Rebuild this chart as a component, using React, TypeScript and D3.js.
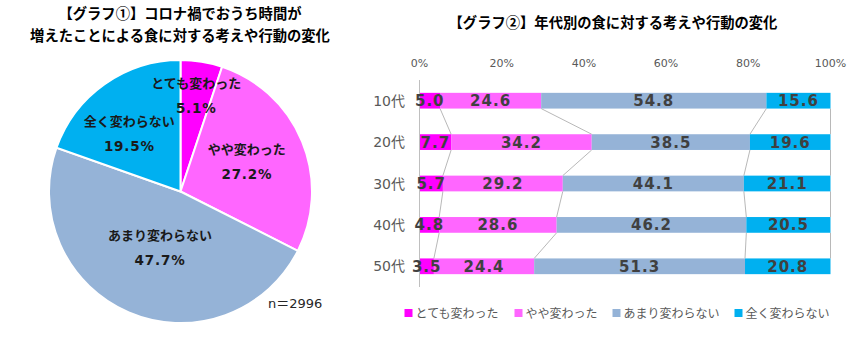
import React from "react";
import * as d3 from "d3";

// ---- data ----
const categories = ["とても変わった", "やや変わった", "あまり変わらない", "全く変わらない"];
const pieValues = [5.1, 27.2, 47.7, 19.5];
const pieSample = "n＝2996";
const ageGroups = ["10代", "20代", "30代", "40代", "50代"];
const seriesTotally = [5.0, 7.7, 5.7, 4.8, 3.5];
const seriesSomewhat = [24.6, 34.2, 29.2, 28.6, 24.4];
const seriesNotMuch = [54.8, 38.5, 44.1, 46.2, 51.3];
const seriesNotAtAll = [15.6, 19.6, 21.1, 20.5, 20.8];
const tickValues = [0, 20, 40, 60, 80, 100];
const tickLabels = ["0%", "20%", "40%", "60%", "80%", "100%"];
const title1Lines = ["【グラフ①】コロナ禍でおうち時間が", "増えたことによる食に対する考えや行動の変化"];
const title2 = "【グラフ②】年代別の食に対する考えや行動の変化";

// ---- style ----
const colors = ["#FF00FF", "#FF66FF", "#95B3D7", "#00B0F0"];
const pieLabelRadius = [98, 73, 59, 78];
const pieLabelAngleShift = [0, -0.04, -0.05, -0.1];
const FONT = "'DejaVu Sans', 'Noto Sans CJK JP', sans-serif";
const JFONT = "'Noto Sans CJK JP', sans-serif";

export default function App() {
  const W = 865, H = 340;
  // pie
  const cx = 180.5, cy = 191.5, R = 131.5;
  const pie = d3.pie<number>().sort(null).value((d) => d)(pieValues);
  const arc = d3.arc<d3.PieArcDatum<number>>().innerRadius(0).outerRadius(R);

  // bar
  const seriesList = [seriesTotally, seriesSomewhat, seriesNotMuch, seriesNotAtAll];
  const rows = ageGroups.map((g, i) => {
    const vals = seriesList.map((s) => s[i]);
    const tot = d3.sum(vals);
    let acc = 0;
    const segs = vals.map((v, k) => {
      const x0 = (acc / tot) * 100;
      acc += v;
      const x1 = (acc / tot) * 100;
      return { v, k, x0, x1 };
    });
    return { g, segs };
  });
  const x = d3.scaleLinear().domain([0, 100]).range([419.5, 830.5]);
  const y = d3.scaleBand<string>().domain(ageGroups).range([80, 287]).paddingInner(0.62).paddingOuter(0.31);
  const bw = y.bandwidth();

  // legend layout
  const fsLeg = 12;
  const itemW = categories.map((c) => 11 + c.length * fsLeg + 15);
  const legTotal = d3.sum(itemW) - 15;
  let lx = 617 - legTotal / 2;
  const legX = itemW.map((w) => {
    const s = lx;
    lx += w;
    return s;
  });

  return (
    <svg width={W} height={H} style={{ position: "absolute", left: 0, top: 0, background: "#fff" }}>
      {/* titles */}
      {title1Lines.map((t, i) => (
        <text key={i} x={180} y={19 + i * 22} textAnchor="middle" fontFamily={JFONT} fontWeight="bold" fontSize={14.3} fill="#000">
          {t}
        </text>
      ))}
      <text x={613} y={28} textAnchor="middle" fontFamily={JFONT} fontWeight="bold" fontSize={14.3} fill="#000">
        {title2}
      </text>

      {/* pie */}
      <g transform={`translate(${cx},${cy})`}>
        {pie.map((p, i) => (
          <path key={i} d={arc(p) || ""} fill={colors[i]} stroke="#fff" strokeWidth={2} />
        ))}
        {pie.map((p, i) => {
          const a = (p.startAngle + p.endAngle) / 2 + pieLabelAngleShift[i];
          const r = pieLabelRadius[i];
          const lxp = Math.sin(a) * r;
          const lyp = -Math.cos(a) * r;
          return (
            <g key={i} transform={`translate(${lxp},${lyp})`} fill="#1a1a1a" fontWeight="bold" textAnchor="middle">
              <text y={-7} fontFamily={JFONT} fontSize={13} >
                {categories[i]}
              </text>
              <text y={18} fontFamily={FONT} fontSize={13.5} letterSpacing={0.8}>
                {p.data.toFixed(1)}%
              </text>
            </g>
          );
        })}
      </g>
      <text x={268} y={308} fontFamily={FONT} fontSize={13} fill="#262626">
        {pieSample}
      </text>

      {/* bar chart ticks */}
      {tickValues.map((t, i) => (
        <text key={t} x={x(t)} y={67} textAnchor="middle" fontFamily={FONT} fontSize={11} fill="#595959">
          {tickLabels[i]}
        </text>
      ))}
      {/* series lines */}
      {rows.slice(0, -1).map((r, i) =>
        r.segs.map((s) => (
          <line
            key={`${i}-${s.k}`}
            x1={x(s.x1)}
            x2={x(rows[i + 1].segs[s.k].x1)}
            y1={(y(r.g) || 0) + bw}
            y2={y(rows[i + 1].g) || 0}
            stroke="#A6A6A6"
            strokeWidth={0.8}
          />
        ))
      )}
      {/* bars */}
      {rows.map((r) => (
        <g key={r.g}>
          {r.segs.map((s) => (
            <rect key={s.k} x={x(s.x0)} y={y(r.g)} width={x(s.x1) - x(s.x0)} height={bw} fill={colors[s.k]} />
          ))}
          <text x={405} y={(y(r.g) || 0) + bw / 2 + 5} textAnchor="end" fontFamily={FONT} fontSize={14} fill="#595959">
            {r.g}
          </text>
        </g>
      ))}
      {/* axis line */}
      <line x1={x(0)} x2={x(0)} y1={80} y2={287} stroke="#BFBFBF" strokeWidth={1} />
      {/* value labels */}
      {rows.map((r) =>
        r.segs.map((s) => (
          <text
            key={`${r.g}-${s.k}`}
            x={(x(s.x0) + x(s.x1)) / 2}
            y={(y(r.g) || 0) + bw / 2 + 5.5}
            textAnchor="middle"
            fontFamily={FONT}
            fontWeight="bold"
            fontSize={15}
            letterSpacing={1}
            fill="#404040"
          >
            {s.v.toFixed(1)}
          </text>
        ))
      )}
      {/* legend */}
      {categories.map((c, i) => (
        <g key={c}>
          <rect x={legX[i]} y={309} width={8} height={8} fill={colors[i]} />
          <text x={legX[i] + 11} y={318} fontFamily={JFONT} fontSize={fsLeg} fill="#595959">
            {c}
          </text>
        </g>
      ))}
    </svg>
  );
}
